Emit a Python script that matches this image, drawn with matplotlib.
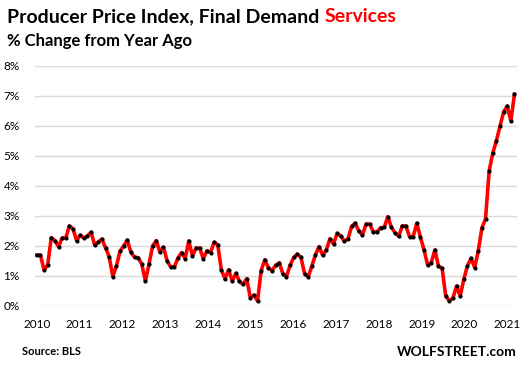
import numpy as np
import matplotlib
matplotlib.use("Agg")
import matplotlib.pyplot as plt

# PPI final demand services, % change from year ago, monthly
yoy = [
    1.70, 1.70, 1.20, 1.37, 2.28, 2.18, 1.98, 2.27, 2.27, 2.67, 2.57, 2.18,
    2.36, 2.27, 2.34, 2.46, 2.03, 2.14, 2.23, 1.94, 1.64, 0.98, 1.33, 1.83,
    2.00, 2.20, 1.79, 1.62, 1.61, 1.40, 0.83, 1.39, 2.00, 2.18, 1.80, 1.96,
    1.51, 1.30, 1.30, 1.60, 1.78, 1.58, 2.17, 1.67, 1.93, 1.93, 1.58, 1.84,
    1.78, 2.13, 2.04, 1.20, 0.91, 1.21, 0.83, 1.09, 0.82, 0.72, 0.91, 0.28,
    0.36, 0.17, 1.18, 1.54, 1.28, 1.18, 1.36, 1.44, 1.07, 0.98, 1.36, 1.62,
    1.73, 1.62, 1.07, 0.97, 1.33, 1.71, 1.98, 1.69, 1.87, 2.24, 2.07, 2.42,
    2.33, 2.16, 2.24, 2.66, 2.76, 2.49, 2.37, 2.73, 2.73, 2.47, 2.47, 2.61,
    2.62, 2.98, 2.62, 2.44, 2.32, 2.67, 2.67, 2.31, 2.31, 2.76, 2.30, 1.87,
    1.37, 1.44, 1.87, 1.33, 1.26, 0.33, 0.17, 0.26, 0.67, 0.33, 0.89, 1.34,
    1.59, 1.28, 1.84, 2.60, 2.90, 4.50, 5.09, 5.51, 5.99, 6.47, 6.67, 6.17,
    7.06,
]
years = [str(y) for y in range(2010, 2022)]
y_ticks = list(range(0, 9))

plt.rcParams["font.family"] = ["Lato", "DejaVu Sans"]

fig = plt.figure(figsize=(5.29, 3.65), dpi=100)
ax = fig.add_axes([35 / 529, 59 / 365, 482 / 529, 240 / 365])

months = np.arange(len(yoy))
ax.plot(months, yoy, color="#ff0000", lw=2.6, zorder=3, solid_joinstyle="round")
ax.plot(months, yoy, ls="none", marker="o", ms=2.0, color="black", zorder=4)

ax.set_xlim(-0.5, 132.7)
ax.set_ylim(0, 8)
ax.set_yticks(y_ticks)
ax.set_yticklabels([f"{v}%" for v in y_ticks])
# year labels in the original sit a little closer than 12 points apart
ax.set_xticks(np.arange(len(years)) * 11.82)
ax.set_xticklabels(years)
ax.grid(axis="y", color="#d9d9d9", lw=1)
ax.set_axisbelow(True)
for s in ax.spines.values():
    s.set_visible(False)
ax.tick_params(length=0, labelsize=8.5, colors="black")
ax.tick_params(axis="y", pad=11)
ax.tick_params(axis="x", pad=9)

# title, with the last word in red
t1 = fig.text(7 / 529, 1 - 22 / 365, "Producer Price Index, Final Demand ",
              fontsize=14, fontweight="bold", va="baseline")
fig.canvas.draw()
bb = t1.get_window_extent(fig.canvas.get_renderer())
fig.text(bb.x1 / fig.bbox.width, 1 - 22 / 365, "Services", color="#ff0000",
         fontsize=14, fontweight="bold", va="baseline")
fig.text(7 / 529, 1 - 46 / 365, "% Change from Year Ago",
         fontsize=12, fontweight="bold", va="baseline")

fig.text(22 / 529, 1 - 355 / 365, "Source: BLS", fontsize=8,
         fontweight="bold", va="baseline")
fig.text(517 / 529, 1 - 356 / 365, "WOLFSTREET.com", fontsize=10,
         fontweight="bold", va="baseline", ha="right")

fig.savefig("out.png", dpi=100)
